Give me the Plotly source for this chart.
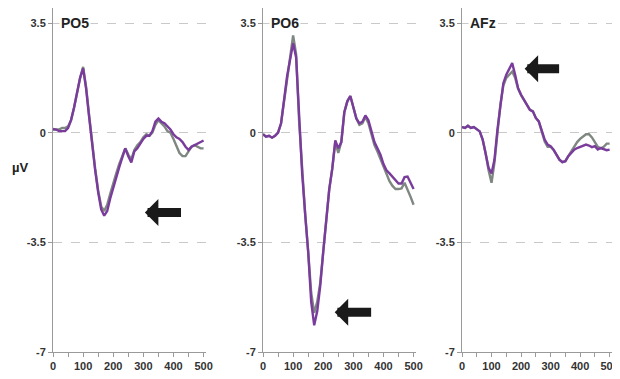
import plotly.graph_objects as go

# time axis (ms)
t = list(range(0, 501, 10))

po5_gray = [0.1, 0.1, 0.1, 0.15, 0.15, 0.2, 0.4, 0.8, 1.3, 1.75, 2.1, 1.45, 0.55, -0.35, -1.15, -1.85, -2.35, -2.5, -2.3, -1.95,
            -1.6, -1.3, -1.0, -0.75, -0.5, -0.7, -0.85, -0.55, -0.4, -0.3, -0.15, -0.05, -0.1, 0.0, 0.25, 0.4, 0.3, 0.2, 0.05, 0.0,
            -0.2, -0.45, -0.65, -0.75, -0.75, -0.6, -0.45, -0.4, -0.45, -0.5, -0.5]
po5_purple = [0.12, 0.1, 0.05, 0.05, 0.05, 0.15, 0.4, 0.8, 1.3, 1.75, 2.05, 1.4, 0.5, -0.4, -1.2, -1.9, -2.45, -2.65, -2.5, -2.1,
              -1.75, -1.45, -1.1, -0.8, -0.5, -0.75, -0.95, -0.6, -0.5, -0.35, -0.2, -0.1, -0.1, 0.05, 0.35, 0.45, 0.35, 0.3, 0.2, 0.1,
              -0.05, -0.15, -0.2, -0.3, -0.45, -0.55, -0.45, -0.4, -0.33, -0.28, -0.25]

po6_gray = [-0.05, -0.13, -0.1, -0.16, -0.1, 0.0, 0.3, 1.06, 1.8, 2.4, 3.1, 2.5, 0.35, -1.3, -2.6, -3.8, -5.1, -5.75, -5.4, -4.8,
            -3.8, -2.7, -1.8, -1.15, -0.3, -0.65, -0.3, 0.65, 1.0, 1.17, 0.85, 0.45, 0.25, 0.3, 0.5, 0.3, -0.05, -0.4, -0.6, -0.85,
            -1.1, -1.35, -1.55, -1.7, -1.8, -1.8, -1.78, -1.6, -1.8, -2.05, -2.3]
po6_purple = [-0.05, -0.13, -0.1, -0.16, -0.1, 0.0, 0.3, 1.06, 1.8, 2.33, 2.85, 2.4, 0.3, -1.3, -2.6, -3.8, -5.4, -6.15, -5.7, -4.9,
              -3.8, -2.7, -1.8, -1.15, -0.25, -0.5, -0.3, 0.65, 1.0, 1.17, 0.85, 0.45, 0.3, 0.35, 0.55, 0.4, 0.05, -0.3, -0.5, -0.7,
              -1.0, -1.2, -1.3, -1.4, -1.5, -1.62, -1.62, -1.42, -1.4, -1.6, -1.8]

afz_gray = [0.18, 0.15, 0.22, 0.15, 0.18, 0.1, 0.04, -0.22, -0.65, -1.2, -1.6, -0.95, 0.05, 0.9, 1.5, 1.75, 1.85, 1.95, 1.75, 1.4,
            1.2, 1.05, 0.89, 0.73, 0.68, 0.47, 0.36, 0.0, -0.28, -0.45, -0.45, -0.55, -0.7, -0.86, -0.94, -0.91, -0.75, -0.6, -0.45, -0.3,
            -0.2, -0.12, -0.05, -0.05, -0.15, -0.3, -0.45, -0.5, -0.45, -0.35, -0.35]
afz_purple = [0.18, 0.15, 0.22, 0.15, 0.18, 0.1, 0.04, -0.22, -0.65, -1.12, -1.3, -0.86, 0.1, 0.94, 1.58, 1.85, 2.06, 2.22, 1.85, 1.42,
              1.21, 1.05, 0.89, 0.73, 0.68, 0.47, 0.36, 0.04, -0.22, -0.38, -0.43, -0.54, -0.7, -0.86, -0.94, -0.91, -0.75, -0.65, -0.54, -0.49,
              -0.46, -0.43, -0.38, -0.41, -0.46, -0.43, -0.54, -0.49, -0.52, -0.56, -0.54]

panel_names = ["PO5", "PO6", "AFz"]
gray_series = [po5_gray, po6_gray, afz_gray]
purple_series = [po5_purple, po6_purple, afz_purple]

# arrows: (tip x, tail x, y) in data units
arrows = [(305, 430, -2.55), (238, 364, -5.73), (212, 334, 2.04)]

y_ticks = [3.5, 0, -3.5, -7]
y_ticktext = ["3.5", "0", "-3.5", "-7"]
x_ticks = [0, 100, 200, 300, 400, 500]

# the page body adds an 8px offset; the figure is sized to fill the window after it
OFF = 8
WIN_W, WIN_H = 620, 379
W, H = WIN_W - OFF, WIN_H - OFF
x_domains_px = [(53, 206), (263, 416), (462, 612)]   # window pixels
y_bot_px, y_top_px = 352, OFF                          # window pixels
px_per_unit = (352 - 23) / 10.5
y_top_val = 3.5 + (23 - y_top_px) / px_per_unit
y_dom = [(H - (y_bot_px - OFF)) / H, (H - (y_top_px - OFF)) / H]

GRAY = "#7f8781"
PURPLE = "#7a3c9c"
AXIS = "#9a9a9a"
FONT = "Liberation Sans, Arial, sans-serif"

fig = go.Figure()
layout = dict(width=W, height=H, autosize=False, margin=dict(l=0, r=0, t=0, b=0, pad=0, autoexpand=False),
              paper_bgcolor="white", plot_bgcolor="white", showlegend=False)
annotations = []

for i in range(3):
    sfx = "" if i == 0 else str(i + 1)
    xa, ya = "x" + sfx, "y" + sfx
    fig.add_trace(go.Scatter(x=t, y=gray_series[i], mode="lines", line=dict(color=GRAY, width=2.4),
                             xaxis=xa, yaxis=ya))
    fig.add_trace(go.Scatter(x=t, y=purple_series[i], mode="lines", line=dict(color=PURPLE, width=2.4),
                             xaxis=xa, yaxis=ya))
    d0, d1 = x_domains_px[i]
    layout["xaxis" + sfx] = dict(domain=[(d0 - OFF) / W, (d1 - OFF) / W], range=[0, 508], anchor=ya, automargin=False,
                                 tickvals=x_ticks, ticks="outside", ticklen=4, tickcolor=AXIS,
                                 minor=dict(dtick=50, tick0=0, ticks="outside", ticklen=4, tickcolor=AXIS),
                                 showline=True, linecolor=AXIS, linewidth=1, showgrid=False, zeroline=False,
                                 tickfont=dict(family=FONT, size=11, color="#333", weight="bold"))
    layout["yaxis" + sfx] = dict(domain=y_dom, range=[-7, y_top_val], anchor=xa, automargin=False,
                                 tickvals=y_ticks, ticktext=y_ticktext, ticks="outside", ticklen=4, tickcolor=AXIS,
                                 showline=True, linecolor=AXIS, linewidth=1,
                                 showgrid=True, gridcolor="#c9c9c9", griddash="dash", gridwidth=1, zeroline=False,
                                 tickfont=dict(family=FONT, size=11, color="#333", weight="bold"))
    annotations.append(dict(x=20, y=3.5, xref=xa, yref=ya, text=panel_names[i], showarrow=False,
                            xanchor="left", yanchor="middle", bgcolor="white", borderpad=1,
                            font=dict(family=FONT, size=14, color="#222", weight="bold")))
    tip, tail, ay = arrows[i]
    annotations.append(dict(x=tip, y=ay, ax=tail, ay=ay, xref=xa, yref=ya, axref=xa, ayref=ya,
                            text="", showarrow=True, arrowhead=1, arrowsize=0.5, arrowwidth=9,
                            arrowcolor="#1a1a1a"))

annotations.append(dict(x=(20 - OFF) / W, y=1 - (167 - OFF) / H, xref="paper", yref="paper", text="µV", showarrow=False,
                        xanchor="center", yanchor="middle",
                        font=dict(family=FONT, size=13, color="#222", weight="bold")))
layout["annotations"] = annotations
fig.update_layout(**layout)
fig.write_html("out.html")
